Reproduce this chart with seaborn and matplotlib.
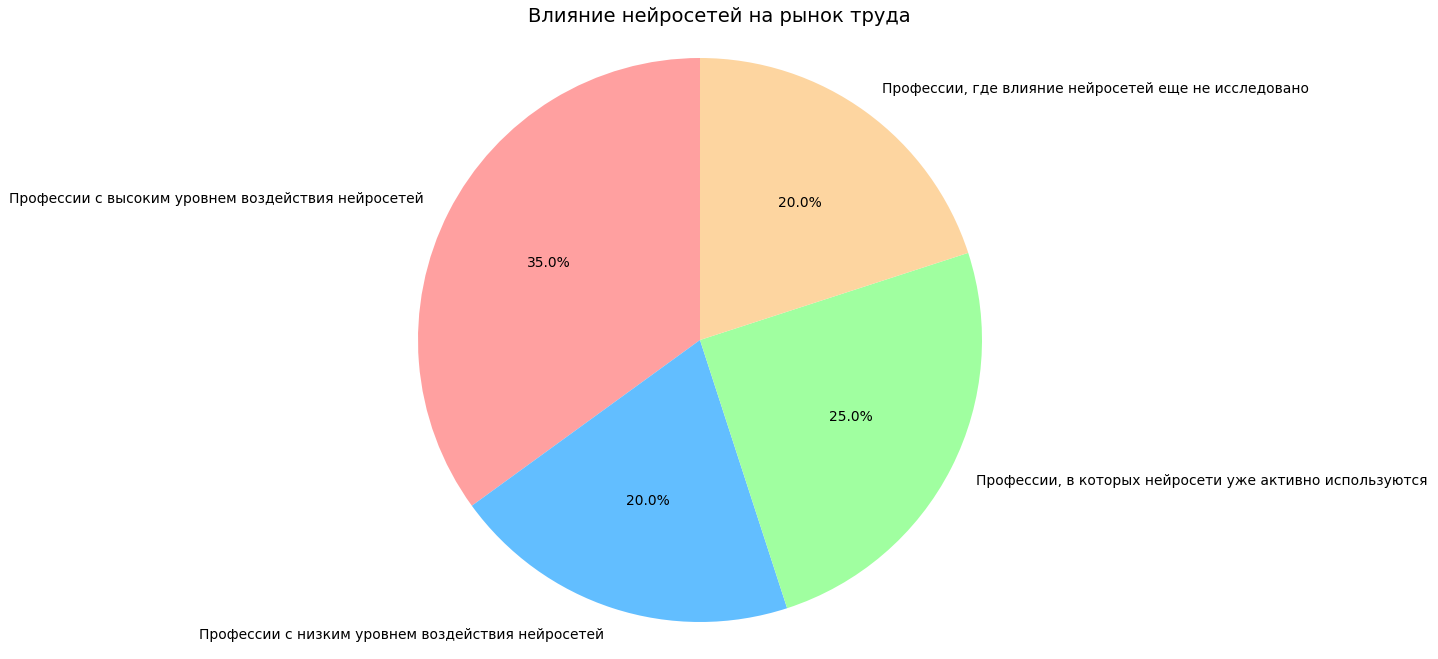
import matplotlib
matplotlib.use("Agg")
import matplotlib.pyplot as plt
import seaborn as sns

sns.set_style("white")
plt.rcParams['font.family'] = ['DejaVu Sans']

labels = [
    'Профессии с высоким уровнем воздействия нейросетей',
    'Профессии с низким уровнем воздействия нейросетей',
    'Профессии, в которых нейросети уже активно используются',
    'Профессии, где влияние нейросетей еще не исследовано',
]
sizes = [35, 20, 25, 20]
colors = ['#ffa0a0', '#62beff', '#a0ffa0', '#fdd5a0']

fig = plt.figure(figsize=(14.38, 6.59), dpi=100)
# оси на всю ширину, масштаб подобран так, чтобы радиус ~282 px
ax = fig.add_axes([0, 9 / 659, 1, 620 / 659])
ax.pie(sizes, labels=labels, colors=colors, autopct='%1.1f%%', startangle=90,
       wedgeprops={'linewidth': 0},
       textprops={'color': 'black', 'fontsize': 10})
r = 282
ax.set_xlim(-700 / r, 738 / r)
ax.set_ylim(-310 / r, 310 / r)
ax.set_aspect('auto')
ax.axis('off')
ax.set_title('Влияние нейросетей на рынок труда', fontsize=14, color='black', pad=6)
fig.savefig('out.png', dpi=100)
